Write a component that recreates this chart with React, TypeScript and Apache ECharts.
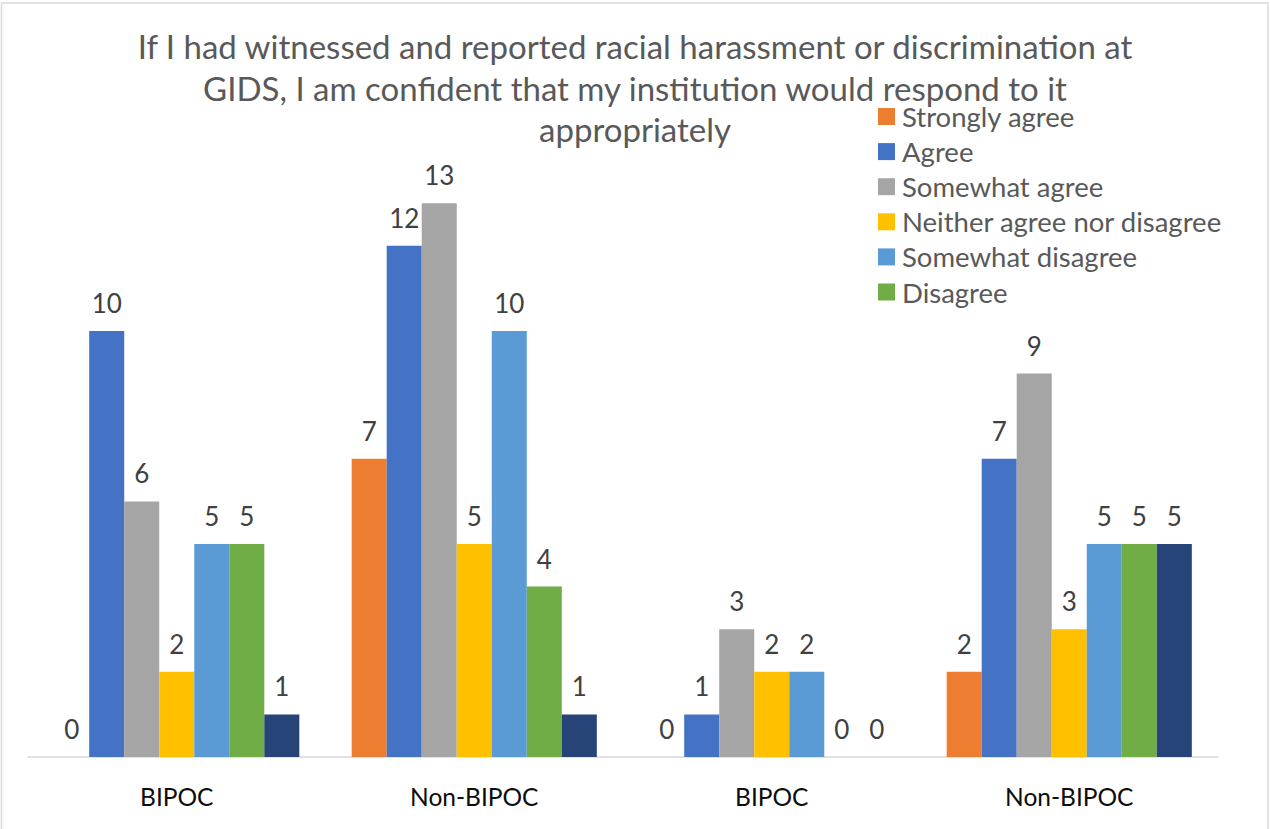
import React, { useEffect, useRef } from "react";
import * as echarts from "echarts";

const categories = ["BIPOC", "Non-BIPOC", "BIPOC", "Non-BIPOC"];
const seriesNames = [
  "Strongly agree",
  "Agree",
  "Somewhat agree",
  "Neither agree nor disagree",
  "Somewhat disagree",
  "Disagree",
  "Strongly disagree",
];
const stronglyAgree = [0, 7, 0, 2];
const agree = [10, 12, 1, 7];
const somewhatAgree = [6, 13, 3, 9];
const neither = [2, 5, 2, 3];
const somewhatDisagree = [5, 10, 2, 5];
const disagree = [5, 4, 0, 5];
const stronglyDisagree = [1, 1, 0, 5];
const seriesValues = [stronglyAgree, agree, somewhatAgree, neither, somewhatDisagree, disagree, stronglyDisagree];
const colors = ["#ED7D31", "#4472C4", "#A5A5A5", "#FFC000", "#5B9BD5", "#70AD47", "#264478"];
const legendNames = seriesNames.slice(0, 6);
const titleLines = [
  "If I had witnessed and reported racial harassment or discrimination at",
  "GIDS, I am confident that my institution would respond to it",
  "appropriately",
];

const FONT = "Lato, 'Noto Sans', sans-serif";

export default function App() {
  const ref = useRef<HTMLDivElement>(null);
  useEffect(() => {
    if (!ref.current) return;
    const chart = echarts.init(ref.current, undefined, { renderer: "svg" });
    chart.setOption({
      animation: false,
      backgroundColor: "#ffffff",
      color: colors,
      textStyle: { fontFamily: FONT },
      legend: {
        data: legendNames,
        orient: "vertical",
        left: 873,
        top: 97.5,
        itemWidth: 17,
        itemHeight: 17,
        itemGap: 7.1,
        icon: "rect",
        textStyle: {
          fontFamily: FONT,
          fontSize: 27.5,
          lineHeight: 27,
          color: "#595959",
          padding: [0, 0, 0, 2],
        },
      },
      graphic: [
        ...titleLines.map((line, i) => ({
          type: "text",
          x: 635,
          y: 46.25 + i * 41.5,
          silent: true,
          style: {
            text: line,
            textAlign: "center",
            textVerticalAlign: "middle",
            fontFamily: FONT,
            fontSize: 33,
            lineHeight: 33,
            fill: "#595959",
          },
        })),
        {
          type: "rect",
          shape: { x: 1.5, y: 3, width: 1266.5, height: 840 },
          style: { fill: "none", stroke: "#d9d9d9", lineWidth: 1.5 },
          silent: true,
          z: 100,
        },
      ],
      grid: { left: 28, right: 52, top: 160.6, bottom: 72, containLabel: false },
      xAxis: {
        type: "category",
        data: categories,
        axisLine: { show: true, lineStyle: { color: "#d9d9d9", width: 1.5 } },
        axisTick: { show: false },
        axisLabel: {
          fontFamily: FONT,
          fontSize: 24.5,
          color: "#0d0d0d",
          margin: 27,
        },
      },
      yAxis: {
        type: "value",
        min: 0,
        max: 14,
        show: false,
        splitLine: { show: false },
      },
      series: seriesNames.map((name, i) => ({
        name,
        type: "bar",
        data: seriesValues[i],
        barGap: "0%",
        barCategoryGap: "17.6%",
        itemStyle: { color: colors[i] },
        label: {
          show: true,
          position: "top",
          distance: 15,
          fontFamily: FONT,
          fontSize: 26,
          lineHeight: 26,
          color: "#404040",
        },
      })),
    });
    return () => chart.dispose();
  }, []);
  return (
    <div
      ref={ref}
      style={{ position: "fixed", left: 0, top: 0, width: 1270, height: 829 }}
    />
  );
}
